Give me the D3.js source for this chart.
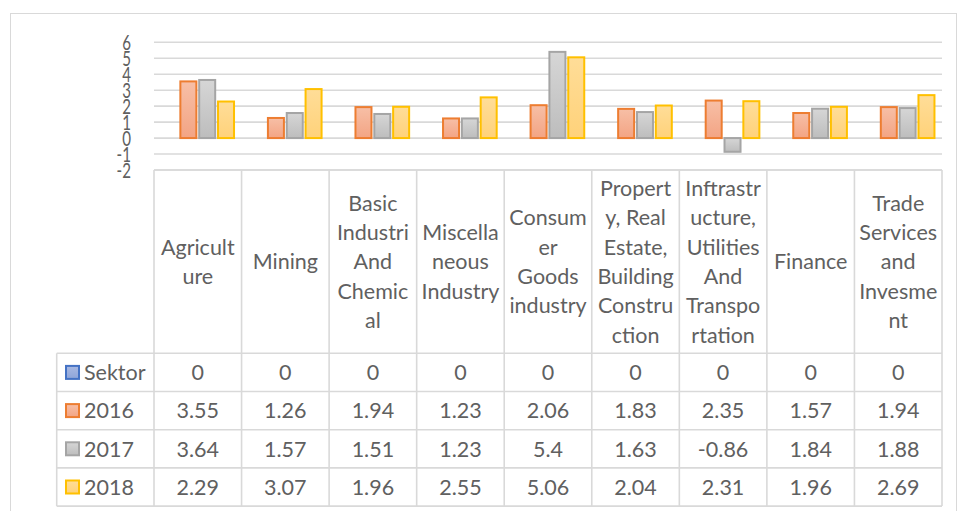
<!DOCTYPE html>
<html>
<head>
<meta charset="utf-8">
<script src="https://cdn.jsdelivr.net/npm/d3@7"></script>
<style>
    body { margin: 0; background: #fff; }
    svg text { font-family: Lato, "Open Sans", sans-serif; fill: #606060; }
</style>
</head>
<body>
<div id="chart"></div>
<script>
// Data
const categories = ['Agriculture', 'Mining', 'Basic Industri And Chemical', 'Miscellaneous Industry',
    'Consumer Goods industry', 'Property, Real Estate, Building Construction',
    'Inftrastructure, Utilities And Transportation', 'Finance', 'Trade Services and Invesment'];
// How the header cells wrap the names
const categoryLines = [
    ['Agricult', 'ure'],
    ['Mining'],
    ['Basic', 'Industri', 'And', 'Chemic', 'al'],
    ['Miscella', 'neous', 'Industry'],
    ['Consum', 'er', 'Goods', 'industry'],
    ['Propert', 'y, Real', 'Estate,', 'Building', 'Constru', 'ction'],
    ['Inftrastr', 'ucture,', 'Utilities', 'And', 'Transpo', 'rtation'],
    ['Finance'],
    ['Trade', 'Services', 'and', 'Invesme', 'nt']
];
const seriesNames = ['Sektor', '2016', '2017', '2018'];
const sektor = [0, 0, 0, 0, 0, 0, 0, 0, 0];
const values2016 = [3.55, 1.26, 1.94, 1.23, 2.06, 1.83, 2.35, 1.57, 1.94];
const values2017 = [3.64, 1.57, 1.51, 1.23, 5.4, 1.63, -0.86, 1.84, 1.88];
const values2018 = [2.29, 3.07, 1.96, 2.55, 5.06, 2.04, 2.31, 1.96, 2.69];
const yTicks = [-2, -1, 0, 1, 2, 3, 4, 5, 6];

const seriesValues = [sektor, values2016, values2017, values2018];
const seriesStyle = [
    { stroke: '#4472C4', top: '#A9B9E2', bottom: '#8EA5D9' },
    { stroke: '#ED7D31', top: '#F7BFA6', bottom: '#F3A484' },
    { stroke: '#A5A5A5', top: '#D6D6D6', bottom: '#BDBDBD' },
    { stroke: '#FFC000', top: '#FFDD98', bottom: '#FFD27A' }
];

const width = 958, height = 511;
const plotLeft = 154, plotRight = 942;
const headerTop = 170, headerBottom = 353.3, rowH = 38.2;
const legendLeft = 56.7;
const gridColor = '#D9D9D9';

const svg = d3.select('#chart').append('svg')
    .attr('width', width)
    .attr('height', height);

// Gradients for bar fills
const defs = svg.append('defs');
seriesStyle.forEach((s, i) => {
    const grad = defs.append('linearGradient')
        .attr('id', `grad-${i}`)
        .attr('x1', 0).attr('y1', 0).attr('x2', 0).attr('y2', 1);
    grad.append('stop').attr('offset', '0%').attr('stop-color', s.top);
    grad.append('stop').attr('offset', '100%').attr('stop-color', s.bottom);
});

// Outer chart frame (right/bottom fall outside the picture)
svg.append('rect')
    .attr('x', 10.5).attr('y', 13.5)
    .attr('width', 946).attr('height', 520)
    .attr('fill', 'none')
    .attr('stroke', gridColor)
    .attr('stroke-width', 1);

// Scales
const x0 = d3.scaleBand()
    .domain(categories)
    .range([plotLeft, plotRight]);

const x1 = d3.scaleBand()
    .domain(seriesNames)
    .range([0, x0.bandwidth()])
    .paddingInner(0.15)
    .paddingOuter(0.4);

const y = d3.scaleLinear()
    .domain([-2, 6])
    .range([headerTop, 42.3]);

// Gridlines
svg.append('g')
    .selectAll('line')
    .data(yTicks)
    .join('line')
    .attr('x1', plotLeft)
    .attr('x2', plotRight)
    .attr('y1', d => y(d))
    .attr('y2', d => y(d))
    .attr('stroke', gridColor)
    .attr('stroke-width', 1.6);

// Y tick labels (condensed like the original)
svg.append('g')
    .selectAll('text')
    .data(yTicks)
    .join('text')
    .attr('transform', d => `translate(131,${y(d)}) scale(0.72,1.05)`)
    .attr('text-anchor', 'end')
    .attr('dy', '0.36em')
    .style('font-size', '21px')
    .text(d => d);

// Bars
const bars = [];
seriesValues.forEach((vals, si) => {
    vals.forEach((v, ci) => bars.push({ si, ci, v }));
});

svg.append('g')
    .selectAll('rect')
    .data(bars.filter(d => d.v !== 0))
    .join('rect')
    .attr('x', d => x0(categories[d.ci]) + x1(seriesNames[d.si]))
    .attr('width', x1.bandwidth())
    .attr('y', d => y(Math.max(0, d.v)))
    .attr('height', d => Math.abs(y(d.v) - y(0)))
    .attr('fill', d => `url(#grad-${d.si})`)
    .attr('stroke', d => seriesStyle[d.si].stroke)
    .attr('stroke-width', 2);

// Data table
const table = svg.append('g');
const tableBottom = headerBottom + rowH * seriesNames.length;

// horizontal lines
table.append('line')
    .attr('x1', plotLeft).attr('x2', plotRight)
    .attr('y1', headerTop).attr('y2', headerTop);
d3.range(seriesNames.length + 1).forEach(i => {
    const yy = headerBottom + i * rowH;
    table.append('line')
        .attr('x1', legendLeft).attr('x2', plotRight)
        .attr('y1', yy).attr('y2', yy);
});
// vertical lines
table.append('line')
    .attr('x1', legendLeft).attr('x2', legendLeft)
    .attr('y1', headerBottom).attr('y2', tableBottom);
categories.concat([null]).forEach((c, i) => {
    const xx = c ? x0(c) : plotRight;
    table.append('line')
        .attr('x1', xx).attr('x2', xx)
        .attr('y1', headerTop).attr('y2', tableBottom);
});
table.selectAll('line')
    .attr('stroke', gridColor)
    .attr('stroke-width', 1.6);

// header cells
const lineH = 29.3;
const headerMid = (headerTop + headerBottom) / 2;
categories.forEach((c, i) => {
    const lines = categoryLines[i];
    const cx = x0(c) + x0.bandwidth() / 2;
    table.append('text')
        .attr('text-anchor', 'middle')
        .style('font-size', '21.5px')
        .selectAll('tspan')
        .data(lines)
        .join('tspan')
        .attr('x', cx)
        .attr('y', (d, j) => headerMid + (j - (lines.length - 1) / 2) * lineH)
        .attr('dy', '0.36em')
        .text(d => d);
});

// value rows with legend keys
seriesNames.forEach((name, si) => {
    const rowMid = headerBottom + si * rowH + rowH / 2;
    table.append('rect')
        .attr('x', 66).attr('y', rowMid - 6.5)
        .attr('width', 13).attr('height', 13)
        .attr('fill', `url(#grad-${si})`)
        .attr('stroke', seriesStyle[si].stroke)
        .attr('stroke-width', 2);
    table.append('text')
        .attr('x', 84)
        .attr('y', rowMid)
        .attr('dy', '0.36em')
        .style('font-size', '21.5px')
        .text(name);
    seriesValues[si].forEach((v, ci) => {
        table.append('text')
            .attr('x', x0(categories[ci]) + x0.bandwidth() / 2)
            .attr('y', rowMid)
            .attr('dy', '0.36em')
            .attr('text-anchor', 'middle')
            .style('font-size', '21.5px')
            .text(v);
    });
});
</script>
</body>
</html>
